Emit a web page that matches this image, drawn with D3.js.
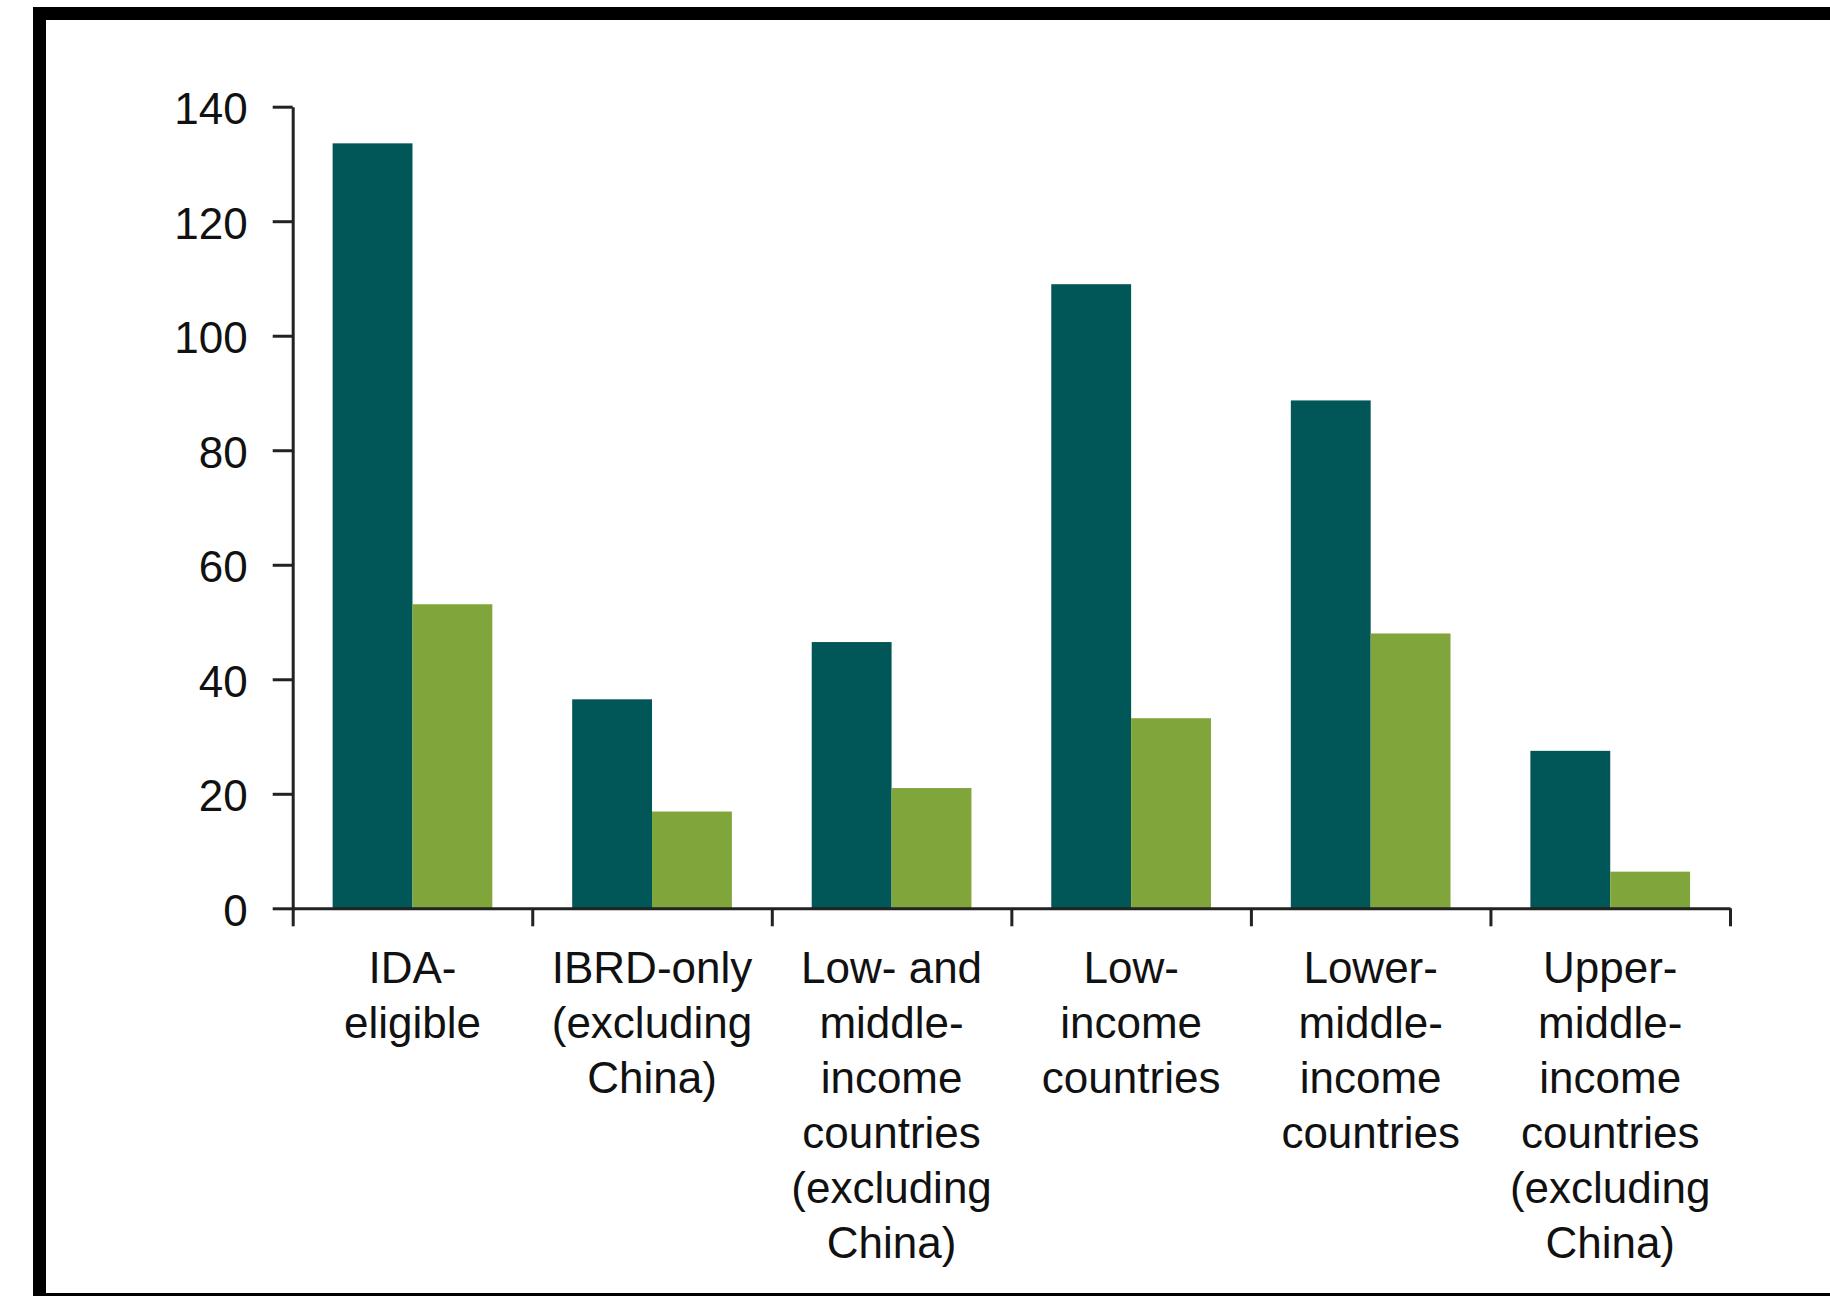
<!DOCTYPE html>
<html>
<head>
<meta charset="utf-8">
<script src="https://cdn.jsdelivr.net/npm/d3@7"></script>
<style>
  html, body { margin: 0; padding: 0; background: #fff; }
  svg { display: block; }
  text { font-family: "Liberation Sans", Arial, Helvetica, sans-serif; fill: #111; }
</style>
</head>
<body>
<div id="chart"></div>
<script>
// ---- data ----
const categories = [
  ["IDA-", "eligible"],
  ["IBRD-only", "(excluding", "China)"],
  ["Low- and", "middle-", "income", "countries", "(excluding", "China)"],
  ["Low-", "income", "countries"],
  ["Lower-", "middle-", "income", "countries"],
  ["Upper-", "middle-", "income", "countries", "(excluding", "China)"]
];
const seriesDark  = [133.6, 36.5, 46.5, 109.0, 88.7, 27.5];
const seriesGreen = [53.1, 16.9, 21.0, 33.2, 48.0, 6.4];
const yTicks = [0, 20, 40, 60, 80, 100, 120, 140];

const colors = { dark: "#015657", green: "#80a53b" };

// ---- layout ----
const W = 1830, H = 1296;
const x0 = 292.7, x1 = 1730, yZero = 908.3, yTop = 106.7;

const svg = d3.select("#chart").append("svg").attr("width", W).attr("height", H);

// frame (cropped on right)
svg.append("rect").attr("x", 0).attr("y", 0).attr("width", W).attr("height", H).attr("fill", "#fff");
svg.append("rect").attr("x", 33).attr("y", 7).attr("width", W - 33).attr("height", 13).attr("fill", "#000");
svg.append("rect").attr("x", 33).attr("y", 7).attr("width", 13).attr("height", H - 7).attr("fill", "#000");
svg.append("rect").attr("x", 33).attr("y", 1293).attr("width", W - 33).attr("height", 3).attr("fill", "#000");

const idx = d3.range(categories.length);
const x = d3.scaleBand().domain(idx).range([x0, x1]).paddingInner(1/3).paddingOuter(1/6);
const xEdges = d3.scaleLinear().domain([0, categories.length]).range([x0, x1]);
const y = d3.scaleLinear().domain([0, 140]).range([yZero, yTop]);

// bars
const g = svg.append("g");
const half = x.bandwidth() / 2;
g.selectAll("rect.dark").data(seriesDark).join("rect")
  .attr("class", "dark")
  .attr("x", (d, i) => x(i))
  .attr("width", half)
  .attr("y", d => y(d))
  .attr("height", d => y(0) - y(d))
  .attr("fill", colors.dark);
g.selectAll("rect.green").data(seriesGreen).join("rect")
  .attr("class", "green")
  .attr("x", (d, i) => x(i) + half)
  .attr("width", half)
  .attr("y", d => y(d))
  .attr("height", d => y(0) - y(d))
  .attr("fill", colors.green);

// y axis
const yAxis = svg.append("g").attr("transform", `translate(${x0},0)`)
  .call(d3.axisLeft(y).tickValues(yTicks).tickSize(20).tickSizeOuter(0).tickPadding(25));
yAxis.select(".domain").attr("stroke", "#222").attr("stroke-width", 3);
yAxis.selectAll(".tick line").attr("stroke", "#222").attr("stroke-width", 3);
yAxis.selectAll(".tick text")
  .attr("font-size", 44)
  .attr("fill", "#111")
  .attr("dy", "0.39em")
  .style("font-family", '"Liberation Sans", Arial, sans-serif');

// x axis (ticks at category boundaries)
const xAxis = svg.append("g").attr("transform", `translate(0,${yZero})`)
  .call(d3.axisBottom(xEdges).tickValues(d3.range(categories.length + 1)).tickSize(18).tickSizeOuter(0).tickFormat(""));
xAxis.select(".domain").attr("stroke", "#222").attr("stroke-width", 3);
xAxis.selectAll(".tick line").attr("stroke", "#222").attr("stroke-width", 3);

// category labels
const lh = 55;
const lab = svg.append("g");
categories.forEach((lines, i) => {
  const t = lab.append("text")
    .attr("x", x(i) + x.bandwidth() / 2)
    .attr("y", 983)
    .attr("text-anchor", "middle")
    .attr("font-size", 44);
  lines.forEach((ln, j) => {
    t.append("tspan").attr("x", x(i) + x.bandwidth() / 2).attr("y", 983 + j * lh).text(ln);
  });
});
</script>
</body>
</html>
